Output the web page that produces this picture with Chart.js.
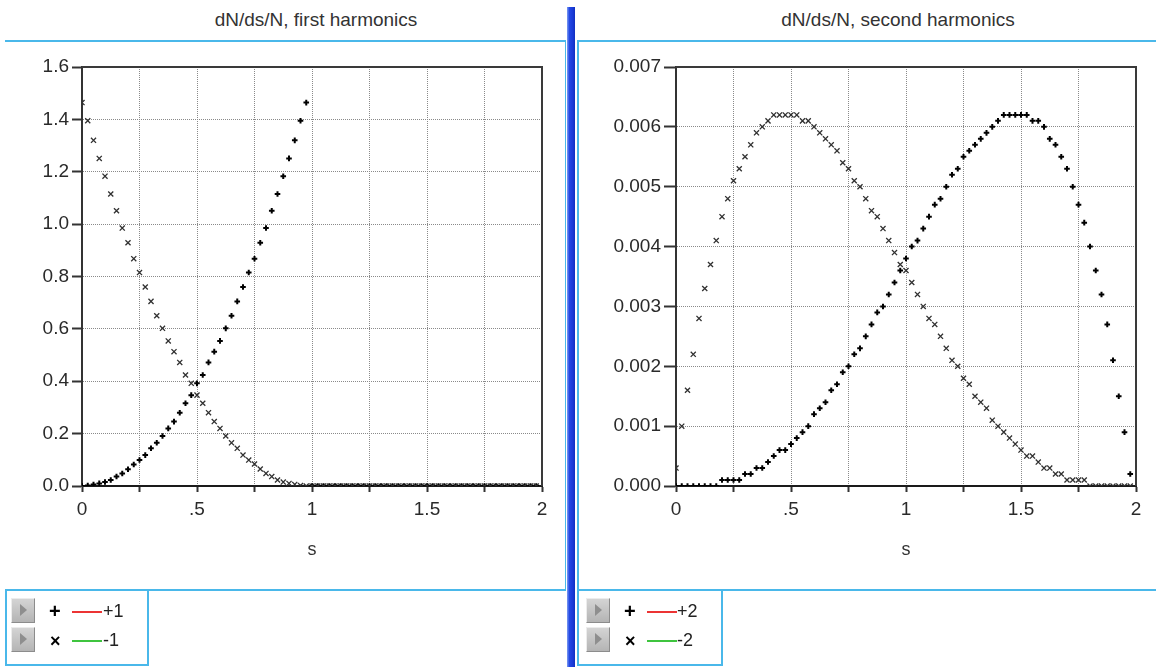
<!DOCTYPE html>
<html><head><meta charset="utf-8">
<script src="https://cdn.jsdelivr.net/npm/chart.js@4.4.1/dist/chart.umd.min.js"></script>
<style>
html,body{margin:0;padding:0;background:#fff;width:1156px;height:667px;overflow:hidden;font-family:"Liberation Sans",Arial,sans-serif;}
.a{position:absolute;}
.cy{position:absolute;background:#4ab8ea;}
.title{position:absolute;top:9px;height:22px;line-height:22px;font-size:19px;color:#333;text-align:center;}
.btn{position:absolute;width:22px;height:23px;background:linear-gradient(#d4d4d4,#b4b4b4);border:1px solid;border-color:#ececec #8c8c8c #8c8c8c #ececec;}
.btn:after{content:"";position:absolute;left:8px;top:5px;border-left:7px solid #8e8e8e;border-top:6px solid transparent;border-bottom:6px solid transparent;}
.glyph{position:absolute;font-weight:bold;color:#000;line-height:20px;height:20px;}
.lg{position:absolute;height:2px;width:30px;}
.lt{position:absolute;font-size:18px;color:#222;line-height:20px;height:20px;}
</style></head>
<body>
<div class="title" style="left:0;width:632px">dN/ds/N, first harmonics</div>
<div class="title" style="left:640px;width:516px">dN/ds/N, second harmonics</div>

<!-- panel frames -->
<div class="cy" style="left:5px;top:40px;width:561px;height:2px"></div>
<div class="cy" style="left:565px;top:40px;width:1px;height:550px"></div>
<div class="cy" style="left:577px;top:40px;width:579px;height:2px"></div>
<div class="cy" style="left:577px;top:40px;width:2px;height:626px"></div>
<div class="cy" style="left:5px;top:589px;width:561px;height:2px"></div>
<div class="cy" style="left:577px;top:589px;width:579px;height:2px"></div>
<div class="a" style="left:567px;top:7px;width:8px;height:660px;background:linear-gradient(90deg,#7d9cf2,#2348e4 30%,#1a3bd8 70%,#1230c0)"></div>

<canvas id="c1" class="a" style="left:0;top:44px" width="566" height="546"></canvas>
<canvas id="c2" class="a" style="left:578px;top:44px" width="578" height="546"></canvas>

<!-- legends -->
<div class="cy" style="left:5px;top:589px;width:2px;height:77px"></div>
<div class="cy" style="left:147px;top:589px;width:2px;height:77px"></div>
<div class="cy" style="left:5px;top:664px;width:144px;height:2px"></div>
<div class="btn" style="left:11px;top:598px"></div>
<div class="btn" style="left:11px;top:627px"></div>
<div class="glyph" style="left:49px;top:601px;font-size:20px">+</div>
<div class="glyph" style="left:50px;top:631px;font-size:18px">×</div>
<div class="lg" style="left:72px;top:611px;background:#ec3434"></div>
<div class="lg" style="left:72px;top:640px;background:#3fc43f"></div>
<div class="lt" style="left:103px;top:601px">+1</div>
<div class="lt" style="left:103px;top:630px">-1</div>

<div class="cy" style="left:721px;top:589px;width:2px;height:77px"></div>
<div class="cy" style="left:577px;top:664px;width:146px;height:2px"></div>
<div class="btn" style="left:586px;top:598px"></div>
<div class="btn" style="left:586px;top:627px"></div>
<div class="glyph" style="left:624px;top:601px;font-size:20px">+</div>
<div class="glyph" style="left:625px;top:631px;font-size:18px">×</div>
<div class="lg" style="left:647px;top:611px;background:#ec3434"></div>
<div class="lg" style="left:647px;top:640px;background:#3fc43f"></div>
<div class="lt" style="left:677px;top:601px">+2</div>
<div class="lt" style="left:677px;top:630px">-2</div>

<script>
// s bins
const sValues = [0,0.025,0.05,0.075,0.1,0.125,0.15,0.175,0.2,0.225,
  0.25,0.275,0.3,0.325,0.35,0.375,0.4,0.425,0.45,0.475,
  0.5,0.525,0.55,0.575,0.6,0.625,0.65,0.675,0.7,0.725,
  0.75,0.775,0.8,0.825,0.85,0.875,0.9,0.925,0.95,0.975,
  1,1.025,1.05,1.075,1.1,1.125,1.15,1.175,1.2,1.225,
  1.25,1.275,1.3,1.325,1.35,1.375,1.4,1.425,1.45,1.475,
  1.5,1.525,1.55,1.575,1.6,1.625,1.65,1.675,1.7,1.725,
  1.75,1.775,1.8,1.825,1.85,1.875,1.9,1.925,1.95,1.975];

// first harmonics
const plus1 = [0.000,0.002,0.006,0.010,0.015,0.023,0.036,0.048,0.064,0.082,
  0.099,0.118,0.144,0.165,0.191,0.220,0.246,0.280,0.316,0.347,
  0.392,0.424,0.472,0.513,0.554,0.602,0.650,0.705,0.760,0.815,
  0.868,0.929,0.985,1.051,1.115,1.183,1.251,1.320,1.395,1.464,
  0,0,0,0,0,0,0,0,0,0,
  0,0,0,0,0,0,0,0,0,0,
  0,0,0,0,0,0,0,0,0,0,
  0,0,0,0,0,0,0,0,0,0];
const minus1 = [1.464,1.395,1.320,1.251,1.183,1.115,1.051,0.985,0.929,0.868,
  0.815,0.760,0.705,0.650,0.602,0.554,0.513,0.472,0.424,0.392,
  0.347,0.316,0.280,0.246,0.220,0.191,0.165,0.144,0.118,0.099,
  0.084,0.065,0.048,0.036,0.023,0.015,0.010,0.006,0.002,0.000,
  0,0,0,0,0,0,0,0,0,0,
  0,0,0,0,0,0,0,0,0,0,
  0,0,0,0,0,0,0,0,0,0,
  0,0,0,0,0,0,0,0,0,0];

// second harmonics
const plus2 = [0,0,0,0,0,0,0,0,0.0001,0.0001,
  0.0001,0.0001,0.0002,0.0002,0.0003,0.0003,0.0004,0.0005,0.0006,0.0006,
  0.0007,0.0008,0.0009,0.0010,0.0012,0.0013,0.0014,0.0016,0.0017,0.0019,
  0.0020,0.0022,0.0023,0.0025,0.0027,0.0029,0.0030,0.0032,0.0034,0.0036,
  0.0038,0.0040,0.0041,0.0043,0.0045,0.0047,0.0048,0.0050,0.0052,0.0053,
  0.0055,0.0056,0.0057,0.0058,0.0059,0.0060,0.0061,0.0062,0.0062,0.0062,
  0.0062,0.0062,0.0061,0.0061,0.0060,0.0058,0.0057,0.0055,0.0053,0.0050,
  0.0047,0.0044,0.0040,0.0036,0.0032,0.0027,0.0021,0.0015,0.0009,0.0002];
const minus2 = [0.0003,0.0010,0.0016,0.0022,0.0028,0.0033,0.0037,0.0041,0.0045,0.0048,
  0.0051,0.0053,0.0055,0.0057,0.0059,0.0060,0.0061,0.0062,0.0062,0.0062,
  0.0062,0.0062,0.0061,0.0061,0.0060,0.0059,0.0058,0.0057,0.0056,0.0054,
  0.0053,0.0051,0.0050,0.0048,0.0046,0.0045,0.0043,0.0041,0.0039,0.0037,
  0.0036,0.0034,0.0032,0.0030,0.0028,0.0027,0.0025,0.0023,0.0021,0.0020,
  0.0018,0.0017,0.0015,0.0014,0.0013,0.0011,0.0010,0.0009,0.0008,0.0007,
  0.0006,0.0005,0.0005,0.0004,0.0003,0.0003,0.0002,0.0002,0.0001,0.0001,
  0.0001,0.0001,0,0,0,0,0,0,0,0];

const xTickValues = [0, 0.5, 1, 1.5, 2];
const xTickLabels = ['0', '.5', '1', '1.5', '2'];
const yTickLabels1 = ['0.0','0.2','0.4','0.6','0.8','1.0','1.2','1.4','1.6'];
const yTickLabels2 = ['0.000','0.001','0.002','0.003','0.004','0.005','0.006','0.007'];

const FONT = 'Liberation Sans, Arial, sans-serif';

const framePlugin = {
  id: 'frame',
  afterDraw(chart) {
    const {ctx, chartArea: a} = chart;
    ctx.save();
    ctx.strokeStyle = '#3a3a3a';
    ctx.lineWidth = 2;
    ctx.beginPath();
    ctx.moveTo(a.left, a.top);
    ctx.lineTo(a.right, a.top);
    ctx.lineTo(a.right, a.bottom);
    ctx.stroke();
    ctx.restore();
  }
};

function pts(vals) { return sValues.map((s, i) => ({x: s, y: vals[i]})); }

function makeChart(id, a, b, yMax, yStep, yLabels, yWidth, yTickLen, padRight) {
  new Chart(document.getElementById(id), {
    type: 'scatter',
    data: {datasets: [
      {data: pts(b), pointStyle: 'crossRot', pointRadius: 3.6, pointBorderWidth: 1.3,
       borderColor: '#303030', backgroundColor: '#303030', showLine: false},
      {data: pts(a), pointStyle: 'cross', pointRadius: 2.8, pointBorderWidth: 2,
       borderColor: '#000', backgroundColor: '#000', showLine: false}
    ]},
    options: {
      responsive: false, animation: false, devicePixelRatio: 1, events: [],
      layout: {padding: {left: 0, right: padRight, top: 23, bottom: 0}},
      plugins: {legend: {display: false}, tooltip: {enabled: false}},
      scales: {
        x: {
          type: 'linear', min: 0, max: 2,
          afterFit(s) { s.height = 104; },
          ticks: {stepSize: 0.25, autoSkip: false, maxRotation: 0, padding: 6,
            color: '#2a2a2a', font: {family: FONT, size: 19},
            callback(v) { const i = xTickValues.indexOf(v); return i >= 0 ? xTickLabels[i] : ''; }},
          grid: {color: '#8a8a8a', lineWidth: 1, tickLength: 6, tickColor: '#333', tickWidth: 2},
          border: {display: true, color: '#1a1a1a', width: 2, dash: [1, 1]},
          title: {display: true, text: 's', color: '#333', font: {family: FONT, size: 18},
            padding: {top: 0, bottom: 29}}
        },
        y: {
          type: 'linear', min: 0, max: yMax,
          afterFit(s) { s.width = yWidth; },
          ticks: {stepSize: yStep, padding: 3, color: '#2a2a2a', font: {family: FONT, size: 19},
            callback(v, i) { return yLabels[i]; }},
          grid: {color: '#8a8a8a', lineWidth: 1, tickLength: yTickLen, tickColor: '#333', tickWidth: 2},
          border: {display: true, color: '#333', width: 2, dash: [1, 1]}
        }
      }
    },
    plugins: [framePlugin]
  });
}

makeChart('c1', plus1, minus1, 1.6, 0.2, yTickLabels1, 82, 10, 24);
makeChart('c2', plus2, minus2, 0.007, 0.001, yTickLabels2, 98, 12, 20);
</script>
</body></html>
